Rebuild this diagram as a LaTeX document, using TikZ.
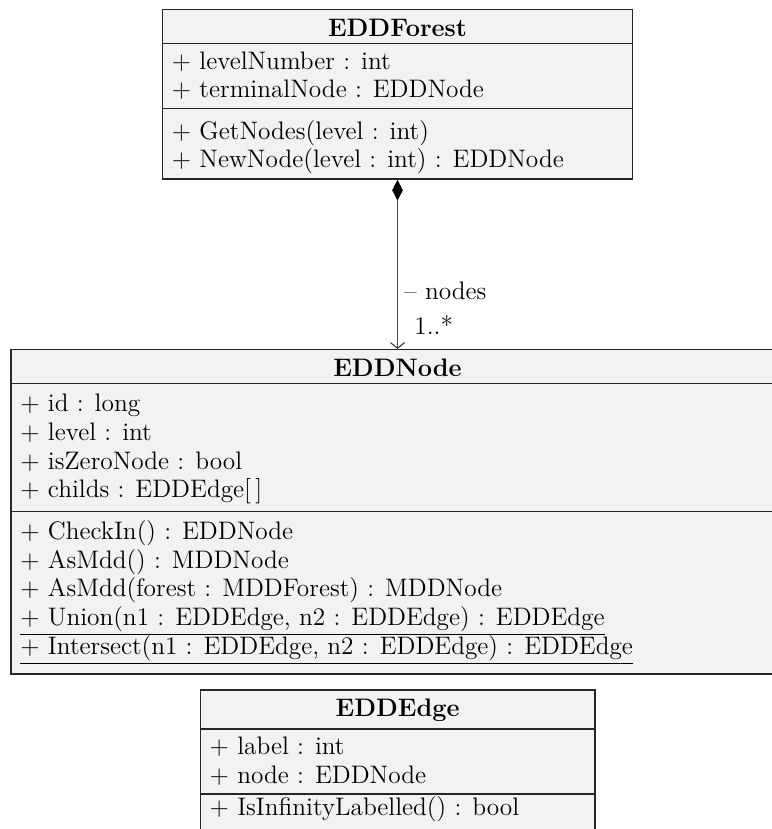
\documentclass[tikz,border=0pt]{standalone}
\usetikzlibrary{arrows.meta,fit}
\begin{document}
\begin{tikzpicture}[x=0.4545pt,y=-0.4545pt,
  classbox/.style={draw=black!85, fill=black!5, line width=0.7pt, inner sep=0pt},
  sepline/.style={draw=black!85, line width=0.7pt},
  member/.style={anchor=base west, inner sep=0pt, font=\fontsize{11.5}{13.8}\selectfont},
  classname/.style={anchor=base, inner sep=0pt, font=\fontsize{11.5}{13.8}\selectfont\bfseries},
  rolelabel/.style={anchor=base west, inner sep=0pt, font=\fontsize{11.5}{13.8}\selectfont},
  assoc/.style={draw=black!70, line width=0.45pt,
    {Diamond[length=9.5pt,width=4.8pt,color=black,fill=black]}-{Straight Barb[length=2.6pt,width=6.4pt,color=black!85]}}
]
\useasboundingbox (0,0) rectangle (772,829);

% class EDDForest
\node[classbox, fit={(162.5,9.5) (632.5,179)}] (forest) {};
\draw[sepline] (162.5,43.5) -- (632.5,43.5);
\draw[sepline] (162.5,108.5) -- (632.5,108.5);
\node[classname] (forestname) at (397.5,36.5) {EDDForest};
\node[member] (fa1) at (171.5,69.5) {+ levelNumber : int};
\node[member] (fa2) at (171.5,97.5) {+ terminalNode : EDDNode};
\node[member] (fo1) at (171.5,139.5) {+ GetNodes(level : int)};
\node[member] (fo2) at (171.5,168) {+ NewNode(level : int) : EDDNode};

% class EDDNode
\node[classbox, fit={(11,349.7) (784,674)}] (eddnode) {};
\draw[sepline] (11,383.7) -- (784,383.7);
\draw[sepline] (11,511.7) -- (784,511.7);
\node[classname] (nodename) at (397.5,376.5) {EDDNode};
\node[member] (na1) at (20,411.5) {+ id : long};
\node[member] (na2) at (20,440.2) {+ level : int};
\node[member] (na3) at (20,469) {+ isZeroNode : bool};
\node[member] (na4) at (20,497.8) {+ childs : EDDEdge[\,]};
\node[member] (no1) at (20,539.5) {+ CheckIn() : EDDNode};
\node[member] (no2) at (20,568.2) {+ AsMdd() : MDDNode};
\node[member] (no3) at (20,596.8) {+ AsMdd(forest : MDDForest) : MDDNode};
\node[member] (no4) at (20,625.5) {\underline{+ Union(n1 : EDDEdge, n2 : EDDEdge) : EDDEdge}};
\node[member] (no5) at (20,654) {\underline{+ Intersect(n1 : EDDEdge, n2 : EDDEdge) : EDDEdge}};

% class EDDEdge
\node[classbox, fit={(200.3,690) (595,845)}] (eddedge) {};
\draw[sepline] (200.3,729) -- (595,729);
\draw[sepline] (200.3,794) -- (595,794);
\node[classname] (edgename) at (397.7,716.5) {EDDEdge};
\node[member] (ea1) at (209.3,754.5) {+ label : int};
\node[member] (ea2) at (209.3,783.5) {+ node : EDDNode};
\node[member] (eo1) at (209.3,815) {+ IsInfinityLabelled() : bool};

% composition EDDForest -> EDDNode
\draw[assoc] (forest.south) -- (eddnode.north);
\node[rolelabel] (role) at (404,299.5) {-- nodes};
\node[rolelabel] (mult) at (414,334.5) {1..*};
\end{tikzpicture}
\end{document}
